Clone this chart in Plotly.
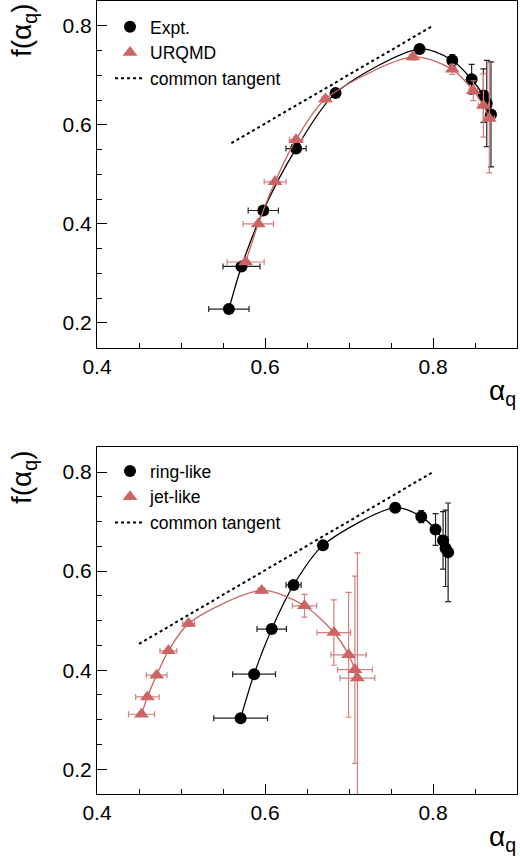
import plotly.graph_objects as go

# ---------------- Top panel data (Expt. vs URQMD) ----------------
expt_alpha = [0.557, 0.572, 0.598, 0.637, 0.684, 0.784, 0.823, 0.846, 0.860, 0.864, 0.869]
expt_f     = [0.228, 0.314, 0.427, 0.552, 0.664, 0.753, 0.730, 0.692, 0.659, 0.643, 0.621]
expt_xerr  = [0.024, 0.022, 0.018, 0.012, 0.003, 0.003, 0.004, 0.004, 0.004, 0.004, 0.004]
expt_yerr  = [0.004, 0.004, 0.004, 0.004, 0.005, 0.005, 0.012, 0.030, 0.054, 0.087, 0.106]

urqmd_alpha = [0.577, 0.592, 0.612, 0.637, 0.672, 0.776, 0.823, 0.848, 0.860, 0.867]
urqmd_f     = [0.323, 0.400, 0.485, 0.570, 0.652, 0.737, 0.712, 0.669, 0.639, 0.613]
urqmd_xerr  = [0.022, 0.018, 0.013, 0.008, 0.004, 0.004, 0.004, 0.005, 0.006, 0.006]
urqmd_yerr  = [0.004, 0.004, 0.004, 0.005, 0.006, 0.006, 0.010, 0.020, 0.064, 0.110]

tan1_alpha = [0.56, 0.80]
tan1_f     = [0.563, 0.80]

# ---------------- Bottom panel data (ring-like vs jet-like) ----------------
ring_alpha = [0.571, 0.587, 0.608, 0.634, 0.669, 0.755, 0.786, 0.803, 0.812, 0.815, 0.818]
ring_f     = [0.303, 0.392, 0.483, 0.572, 0.652, 0.728, 0.710, 0.684, 0.662, 0.646, 0.638]
ring_xerr  = [0.032, 0.0255, 0.0175, 0.009, 0.004, 0.003, 0.004, 0.004, 0.004, 0.004, 0.004]
ring_yerr  = [0.004, 0.004, 0.004, 0.006, 0.005, 0.005, 0.012, 0.032, 0.058, 0.077, 0.0995]

jet_alpha = [0.453, 0.460, 0.471, 0.485, 0.509, 0.596, 0.647, 0.682, 0.6995, 0.707, 0.710]
jet_f     = [0.311, 0.346, 0.390, 0.439, 0.494, 0.561, 0.530, 0.476, 0.431, 0.401, 0.384]
jet_xerr  = [0.0155, 0.014, 0.0123, 0.010, 0.007, 0.004, 0.0145, 0.020, 0.021, 0.0207, 0.0207]
jet_yerr  = [0.004, 0.004, 0.004, 0.005, 0.005, 0.005, 0.023, 0.066, 0.126, 0.189, 0.253]

tan2_alpha = [0.45, 0.80]
tan2_f     = [0.453, 0.80]

BLACK = "#000000"
RED = "#cc6464"
RED_ERR = "#d67f7f"
FONT = "Liberation Sans, Arial, Helvetica, sans-serif"

fig = go.Figure()


def add_series(alpha, f, xerr, yerr, color, errcolor, symbol, size, name, xa, ya, legend):
    # smooth curve through the points (like ROOT "C" option)
    fig.add_trace(go.Scatter(
        x=alpha, y=f, mode="lines", line=dict(color=color, width=1.3, shape="spline", smoothing=0.8),
        showlegend=False, hoverinfo="skip", xaxis=xa, yaxis=ya))
    fig.add_trace(go.Scatter(
        x=alpha, y=f, mode="markers", name=name,
        marker=dict(color=color, symbol=symbol, size=size, line=dict(width=0)),
        error_x=dict(type="data", array=xerr, color=errcolor, thickness=1.2, width=3),
        error_y=dict(type="data", array=yerr, color=errcolor, thickness=1.2, width=3),
        xaxis=xa, yaxis=ya, legend=legend))


def add_tangent(alpha, f, xa, ya, legend):
    fig.add_trace(go.Scatter(
        x=alpha, y=f, mode="lines", name="common tangent",
        line=dict(color=BLACK, width=2, dash="3px,3px"),
        xaxis=xa, yaxis=ya, legend=legend))


# top panel
add_series(expt_alpha, expt_f, expt_xerr, expt_yerr, BLACK, "#222222", "circle", 12, "Expt.", "x", "y", "legend")
add_series(urqmd_alpha, urqmd_f, urqmd_xerr, urqmd_yerr, RED, RED_ERR, "triangle-up", 13, "URQMD", "x", "y", "legend")
add_tangent(tan1_alpha, tan1_f, "x", "y", "legend")

# bottom panel
add_series(ring_alpha, ring_f, ring_xerr, ring_yerr, BLACK, "#222222", "circle", 12, "ring-like", "x2", "y2", "legend2")
add_series(jet_alpha, jet_f, jet_xerr, jet_yerr, RED, RED_ERR, "triangle-up", 13, "jet-like", "x2", "y2", "legend2")
add_tangent(tan2_alpha, tan2_f, "x2", "y2", "legend2")

axis_common = dict(
    showgrid=False, zeroline=False, showline=True, linecolor="black", linewidth=1.2,
    mirror=True, ticks="inside", ticklen=10, tickwidth=1, tickcolor="black",
    tickfont=dict(family=FONT, size=21, color="black"),
    minor=dict(ticks="inside", ticklen=5, tickwidth=1, tickcolor="black", dtick=0.05),
    automargin=False,
)

fig.update_layout(
    width=520, height=858,
    margin=dict(l=97, r=3, t=1, b=64),
    paper_bgcolor="white", plot_bgcolor="white",
    font=dict(family=FONT, color="black"),
    xaxis=dict(axis_common, range=[0.4, 0.9], dtick=0.2, tick0=0.4, tickformat=".1f",
               domain=[0, 1], anchor="y"),
    yaxis=dict(axis_common, range=[0.15, 0.85], dtick=0.2, tick0=0.2, tickformat=".1f",
               domain=[0.5628, 1], anchor="x"),
    xaxis2=dict(axis_common, range=[0.4, 0.9], dtick=0.2, tick0=0.4, tickformat=".1f",
                domain=[0, 1], anchor="y2"),
    yaxis2=dict(axis_common, range=[0.15, 0.85], dtick=0.2, tick0=0.2, tickformat=".1f",
                domain=[0, 0.4372], anchor="x2"),
    legend=dict(x=0.031, y=0.99, xanchor="left", yanchor="top", bgcolor="rgba(0,0,0,0)",
                font=dict(family=FONT, size=17.5, color="black"), tracegroupgap=0),
    legend2=dict(x=0.031, y=0.43, xanchor="left", yanchor="top", bgcolor="rgba(0,0,0,0)",
                 font=dict(family=FONT, size=17.5, color="black"), tracegroupgap=0),
    showlegend=True,
)

title_font = dict(family=FONT, size=28, color="black")
# y titles (rotated, top-left)
fig.add_annotation(text="f(α<sub>q</sub>)", textangle=-90, xref="paper", yref="paper",
                   x=(23 - 97) / 420, y=(794 - 30) / 793, xanchor="center", yanchor="middle",
                   showarrow=False, font=title_font)
fig.add_annotation(text="f(α<sub>q</sub>)", textangle=-90, xref="paper", yref="paper",
                   x=(23 - 97) / 420, y=(794 - 477) / 793, xanchor="center", yanchor="middle",
                   showarrow=False, font=title_font)
# x titles (bottom-right)
fig.add_annotation(text="α<sub>q</sub>", xref="paper", yref="paper",
                   x=(502 - 97) / 420, y=(794 - 393) / 793, xanchor="center", yanchor="middle",
                   showarrow=False, font=title_font)
fig.add_annotation(text="α<sub>q</sub>", xref="paper", yref="paper",
                   x=(502 - 97) / 420, y=(794 - 838) / 793, xanchor="center", yanchor="middle",
                   showarrow=False, font=title_font)

fig.write_html("out.html", config={"displayModeBar": False},
               post_script="document.body.style.margin='0';document.body.style.overflow='hidden';")
